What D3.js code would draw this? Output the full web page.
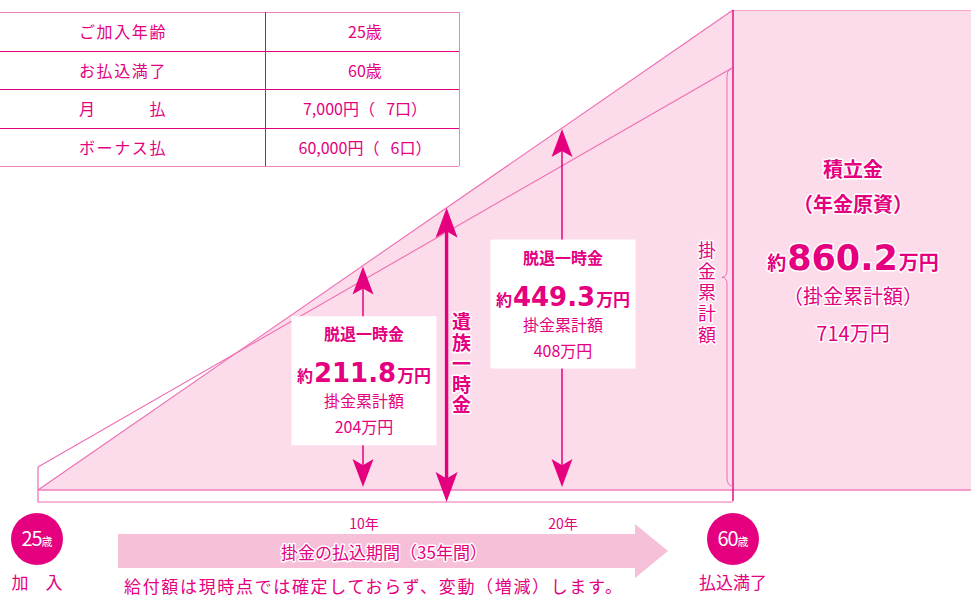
<!DOCTYPE html>
<html>
<head>
<meta charset="utf-8">
<script src="https://cdn.jsdelivr.net/npm/d3@7"></script>
<style>
  body { margin: 0; background: #fff; }
  svg { display: block; }
  text { font-family: "Noto Sans CJK JP", sans-serif; }
</style>
</head>
<body>
<svg></svg>
<script>
// plan table
const tableLabels = ['ご加入年齢', 'お払込満了', '月　　　払', 'ボーナス払']
const tableValues = ['25歳', '60歳', '7,000円（\u2002\u20097口）', '60,000円（\u2002\u20096口）']

// period axis (years since joining)
const startAge = 25
const endAge = 60
const markYears = [0, 10, 20, 35]
const checkYears = [10, 20]
const survivorYear = 14.2

// 脱退一時金 and 掛金累計額 at the check years (万円)
const withdrawal = [211.8, 449.3]
const paidIn = [204, 408]
const fundTotal = 860.2
const paidTotal = 714

// schematic heights of the two slopes, as a share of the fund block
const fundShare = [0, 1]
const paidShare = [0.048, 0.88]

const magenta = '#e4007f'
const pinkLine = '#ef6cb3'
const pinkFill = '#fcdcea'

const svg = d3.select('svg')
  .attr('width', 971)
  .attr('height', 597)
  .attr('viewBox', '0 0 971 597')

const x = d3.scaleLinear().domain(markYears).range([38, 363, 562, 733])
const y = d3.scaleLinear().domain([0, 1]).range([490, 10])
const last = markYears[markYears.length - 1]

// straight line in pixel space between the two end shares
const lineY = (share, px) => {
  const t = (px - x(0)) / (x(last) - x(0))
  return y(share[0]) + t * (y(share[1]) - y(share[0]))
}

// fund block on the right
svg.append('rect')
  .attr('x', x(last)).attr('y', y(1))
  .attr('width', 971 - x(last)).attr('height', y(0) - y(1))
  .attr('fill', pinkFill)
svg.append('line')
  .attr('x1', x(last)).attr('x2', 971)
  .attr('y1', y(1) + 0.5).attr('y2', y(1) + 0.5)
  .attr('stroke', '#f5a3cb')

// area under the fund slope
const area = d3.area()
  .x(d => x(d[0]))
  .y0(y(0))
  .y1(d => y(d[1]))
svg.append('path')
  .datum([[0, fundShare[0]], [last, fundShare[1]]])
  .attr('d', area)
  .attr('fill', pinkFill)

// white strip below the baseline
svg.append('path')
  .attr('d', `M${x(0)},${y(paidShare[0])} V${y(0) + 12} H${x(last)}`)
  .attr('fill', 'none')
  .attr('stroke', pinkLine)
  .attr('stroke-width', 1.2)
svg.append('line')
  .attr('x1', x(0)).attr('x2', 971)
  .attr('y1', y(0)).attr('y2', y(0))
  .attr('stroke', '#f27fbe')
  .attr('stroke-width', 1.6)

const line = d3.line().x(d => x(d[0])).y(d => y(d[1]))
;[fundShare, paidShare].forEach(s => {
  svg.append('path')
    .datum([[0, s[0]], [last, s[1]]])
    .attr('d', line)
    .attr('fill', 'none')
    .attr('stroke', pinkLine)
    .attr('stroke-width', 1.1)
})

svg.append('line')
  .attr('x1', x(last)).attr('x2', x(last))
  .attr('y1', y(1)).attr('y2', y(0) + 11)
  .attr('stroke', magenta)
  .attr('stroke-width', 1.4)

// brace for 掛金累計額
const bx = x(last) - 6
const bTop = y(paidShare[1]) + 1
const bBot = y(0) - 4
const bMid = (bTop + bBot) / 2
svg.append('path')
  .attr('d', `M${x(last)},${bTop} Q${bx},${bTop} ${bx},${bTop + 8} V${bMid - 7} Q${bx},${bMid} ${bx - 5},${bMid} Q${bx},${bMid} ${bx},${bMid + 7} V${bBot - 8} Q${bx},${bBot} ${x(last)},${bBot}`)
  .attr('fill', 'none')
  .attr('stroke', pinkLine)
  .attr('stroke-width', 1)

const halo = sel => sel
  .attr('stroke', '#fff')
  .attr('stroke-width', 3)
  .attr('stroke-linejoin', 'round')
  .attr('paint-order', 'stroke')

// vertical text, first glyph centred at (cx, top)
const vertical = (chars, cx, top, pitch, size, weight) => {
  svg.append('text')
    .attr('x', cx)
    .attr('y', top - size / 2)
    .attr('writing-mode', 'vertical-rl')
    .attr('font-size', size)
    .attr('font-weight', weight)
    .attr('letter-spacing', pitch - size)
    .attr('fill', magenta)
    .text(chars)
    .call(halo)
}
vertical('掛金累計額', 707, 250, 21.2, 18, 400)

// arrow head, tip at (cx, tipY), dir 1 = pointing up
const head = (cx, tipY, dir, w, h) => {
  svg.append('path')
    .attr('d', `M${cx},${tipY} L${cx - w / 2},${tipY + dir * h} L${cx},${tipY + dir * h * 0.78} L${cx + w / 2},${tipY + dir * h} Z`)
    .attr('fill', magenta)
}

// amount line: 約 ###.# 万円
const amount = (g, cx, cy, value, small, big) => {
  const t = g.append('text')
    .attr('x', cx).attr('y', cy)
    .attr('text-anchor', 'middle')
    .attr('fill', magenta)
    .attr('font-weight', 700)
  t.append('tspan').attr('font-size', small).text('約')
  t.append('tspan')
    .attr('font-size', big)
    .attr('font-family', '"DejaVu Sans", sans-serif')
    .attr('dx', 1)
    .text(value.toFixed(1))
  t.append('tspan').attr('font-size', small + 1).attr('dx', 1).text('万円')
  return t
}

// check-year arrows with boxes
checkYears.forEach((yr, i) => {
  const cx = x(yr)
  const tip = lineY(fundShare, cx) + 1
  const bottom = y(0) - 3
  svg.append('line')
    .attr('x1', cx).attr('x2', cx)
    .attr('y1', tip + 15).attr('y2', bottom - 15)
    .attr('stroke', magenta)
    .attr('stroke-width', 1.5)
  head(cx, tip, 1, 21, 28)
  head(cx, bottom, -1, 21, 28)

  const boxH = 129
  const boxW = 145
  const top = (tip + bottom) / 2 - boxH / 2 + (i === 0 ? 4 : -4)
  const g = svg.append('g').attr('transform', `translate(${cx + 1},${top})`)
  g.append('rect')
    .attr('x', -boxW / 2).attr('y', 0)
    .attr('width', boxW).attr('height', boxH)
    .attr('fill', '#fff')
  g.append('text')
    .attr('x', 0).attr('y', 24)
    .attr('text-anchor', 'middle')
    .attr('font-size', 16).attr('font-weight', 700)
    .attr('fill', magenta)
    .text('脱退一時金')
  amount(g, 0, 66, withdrawal[i], 16, 26)
  g.append('text')
    .attr('x', 0).attr('y', 91)
    .attr('text-anchor', 'middle')
    .attr('font-size', 16)
    .attr('fill', magenta)
    .text('掛金累計額')
  g.append('text')
    .attr('x', 0).attr('y', 117)
    .attr('text-anchor', 'middle')
    .attr('font-size', 16)
    .attr('fill', magenta)
    .text(paidIn[i] + '万円')
})

// survivor lump sum arrow
const sx = x(survivorYear)
const sTip = lineY(fundShare, sx)
const sBottom = y(0) + 12
svg.append('line')
  .attr('x1', sx).attr('x2', sx)
  .attr('y1', sTip + 15).attr('y2', sBottom - 15)
  .attr('stroke', magenta)
  .attr('stroke-width', 3.4)
head(sx, sTip, 1, 22, 30)
head(sx, sBottom, -1, 22, 30)
vertical('遺族一時金', sx + 15, 322, 20.8, 19, 700)

// texts in the fund block
const fx = 853
const fund = svg.append('g')
fund.append('text').attr('x', fx).attr('y', 177)
  .attr('text-anchor', 'middle').attr('font-size', 20).attr('font-weight', 700)
  .attr('fill', magenta).text('積立金').call(halo)
fund.append('text').attr('x', fx).attr('y', 212)
  .attr('text-anchor', 'middle').attr('font-size', 20).attr('font-weight', 700)
  .attr('fill', magenta).text('（年金原資）').call(halo)
amount(fund, fx, 270, fundTotal, 19, 35).call(halo)
fund.append('text').attr('x', fx).attr('y', 304)
  .attr('text-anchor', 'middle').attr('font-size', 20)
  .attr('fill', magenta).text('（掛金累計額）').call(halo)
fund.append('text').attr('x', fx).attr('y', 341)
  .attr('text-anchor', 'middle').attr('font-size', 20)
  .attr('fill', magenta).text(paidTotal + '万円').call(halo)

// plan table
const rows = d3.scaleBand().domain(d3.range(tableLabels.length)).range([12, 166])
const table = svg.append('g')
table.selectAll('line.row')
  .data(d3.range(tableLabels.length + 1))
  .join('line')
  .attr('class', 'row')
  .attr('x1', 0).attr('x2', 459)
  .attr('y1', d => Math.round(12 + d * rows.bandwidth()) + 0.5)
  .attr('y2', d => Math.round(12 + d * rows.bandwidth()) + 0.5)
  .attr('stroke', d => (d === 0 || d === tableLabels.length) ? '#f283c0' : magenta)
table.append('line')
  .attr('x1', 265.5).attr('x2', 265.5).attr('y1', 12).attr('y2', 166)
  .attr('stroke', magenta)
table.append('line')
  .attr('x1', 459.5).attr('x2', 459.5).attr('y1', 12).attr('y2', 166)
  .attr('stroke', '#f283c0')
table.selectAll('text.label')
  .data(tableLabels)
  .join('text')
  .attr('class', 'label')
  .attr('x', 79)
  .attr('y', (d, i) => rows(i) + rows.bandwidth() / 2)
  .attr('dominant-baseline', 'central')
  .attr('font-size', 16)
  .attr('letter-spacing', 1.6)
  .attr('fill', magenta)
  .text(d => d)
table.selectAll('text.value')
  .data(tableValues)
  .join('text')
  .attr('class', 'value')
  .attr('x', 365)
  .attr('y', (d, i) => rows(i) + rows.bandwidth() / 2)
  .attr('text-anchor', 'middle')
  .attr('dominant-baseline', 'central')
  .attr('font-size', 16)
  .attr('fill', magenta)
  .text(d => d)

// year ticks under the strip
svg.selectAll('text.tick')
  .data(checkYears)
  .join('text')
  .attr('class', 'tick')
  .attr('x', d => x(d) + 1)
  .attr('y', 523)
  .attr('text-anchor', 'middle')
  .attr('dominant-baseline', 'central')
  .attr('font-size', 14)
  .attr('fill', magenta)
  .text(d => d + '年')

// payment period arrow
const ay = 551
svg.append('path')
  .attr('d', `M118,${ay - 17} H635 V${ay - 27} L668,${ay} L635,${ay + 27} V${ay + 17} H118 Z`)
  .attr('fill', '#f7c0d9')
svg.append('text')
  .attr('x', 384).attr('y', ay)
  .attr('text-anchor', 'middle')
  .attr('dominant-baseline', 'central')
  .attr('font-size', 17)
  .attr('fill', magenta)
  .text(`掛金の払込期間（${last}年間）`)
  .call(halo)

// age badges
const badges = [
  { age: startAge, cx: x(0) - 1, label: '加　入' },
  { age: endAge, cx: x(last), label: '払込満了' }
]
badges.forEach(b => {
  svg.append('circle')
    .attr('cx', b.cx).attr('cy', 539).attr('r', 26)
    .attr('fill', magenta)
  const t = svg.append('text')
    .attr('x', b.cx).attr('y', 546)
    .attr('text-anchor', 'middle')
    .attr('fill', '#fff')
  t.append('tspan').attr('font-size', 20).attr('letter-spacing', -1).text(b.age)
  t.append('tspan').attr('font-size', 11).text('歳')
  svg.append('text')
    .attr('x', b.cx).attr('y', 581)
    .attr('text-anchor', 'middle')
    .attr('dominant-baseline', 'central')
    .attr('font-size', 17)
    .attr('fill', magenta)
    .text(b.label)
})

svg.append('text')
  .attr('x', 124).attr('y', 585)
  .attr('dominant-baseline', 'central')
  .attr('font-size', 17)
  .attr('textLength', 498)
  .attr('lengthAdjust', 'spacing')
  .attr('fill', magenta)
  .text('給付額は現時点では確定しておらず、変動（増減）します。')
</script>
</body>
</html>
